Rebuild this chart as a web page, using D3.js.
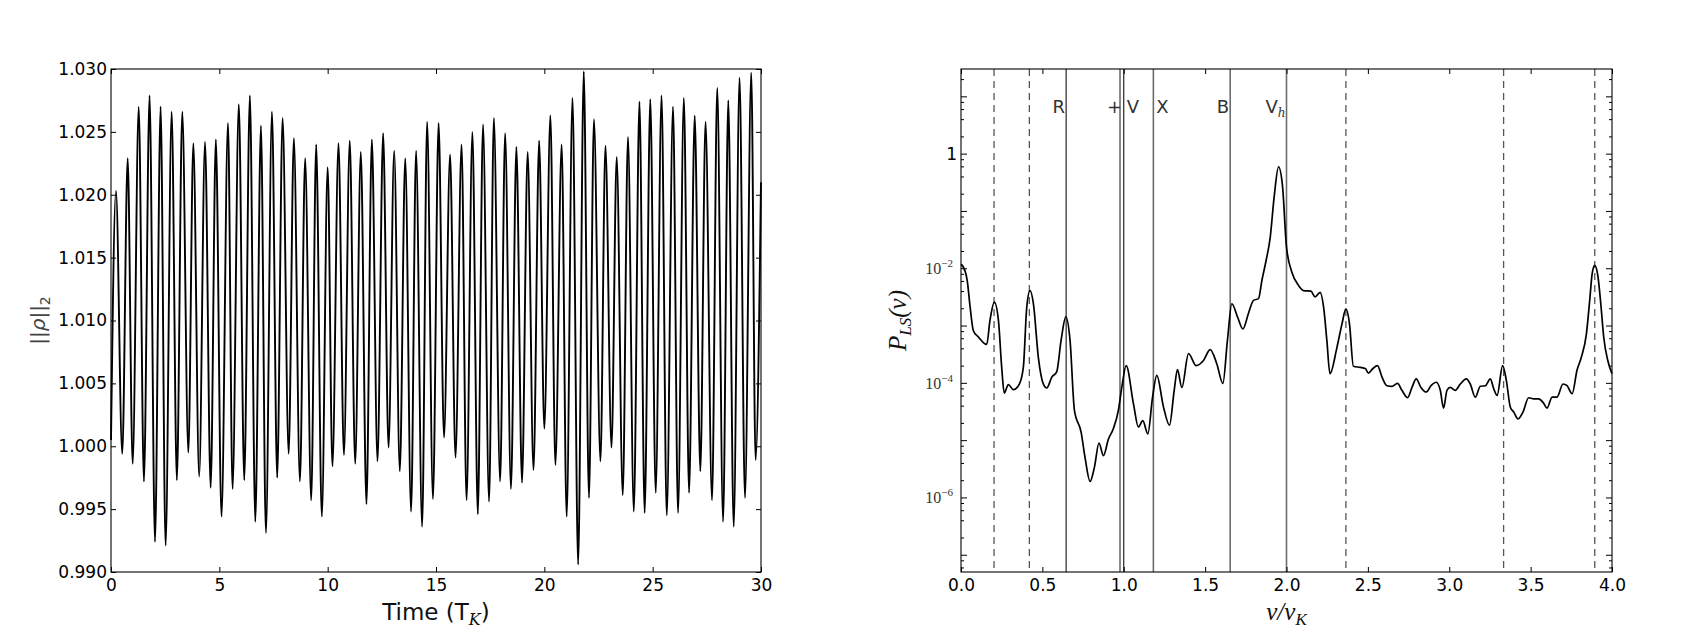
<!DOCTYPE html>
<html><head><meta charset="utf-8">
<script src="https://cdn.jsdelivr.net/npm/d3@7"></script>
<style>body{margin:0;background:#fff;} svg{display:block;}</style>
</head><body>
<svg id="c" width="1702" height="641"></svg>
<script>
// ---------- Left panel data: ||rho||_2 vs time (extrema of the oscillation) ----------
const peakTime = [0.23,0.77,1.28,1.78,2.29,2.80,3.29,3.80,4.34,4.84,5.40,5.90,6.41,6.92,7.43,7.92,8.44,8.96,9.47,10.0,10.5,11.02,11.53,12.04,12.56,13.07,13.58,14.08,14.59,15.12,15.65,16.18,16.68,17.17,17.67,18.19,18.71,19.23,19.76,20.28,20.8,21.3,21.82,22.29,22.82,23.34,23.86,24.39,24.89,25.41,25.94,26.44,26.94,27.44,27.98,28.49,29.01,29.55];
const peakNorm = [1.0203,1.0229,1.0270,1.0279,1.0270,1.0266,1.0266,1.0241,1.0242,1.0244,1.0257,1.0272,1.0279,1.0255,1.0266,1.0261,1.0245,1.0229,1.0240,1.0222,1.0241,1.0243,1.0234,1.0244,1.0249,1.0235,1.0229,1.0235,1.0258,1.0257,1.0232,1.0240,1.0250,1.0256,1.0261,1.0249,1.0238,1.0234,1.0243,1.0263,1.0240,1.0277,1.0298,1.0260,1.0239,1.0230,1.0246,1.0274,1.0276,1.0279,1.0270,1.0277,1.0263,1.0258,1.0285,1.0275,1.0293,1.0297];
const troughTime = [0.52,1.0,1.52,2.03,2.52,3.04,3.57,4.07,4.6,5.1,5.61,6.15,6.66,7.15,7.67,8.2,8.72,9.24,9.73,10.22,10.75,11.27,11.79,12.3,12.81,13.33,13.85,14.36,14.86,15.37,15.9,16.41,16.93,17.45,17.96,18.46,18.97,19.5,20.0,20.51,21.03,21.56,22.06,22.59,23.1,23.62,24.13,24.63,25.14,25.65,26.17,26.68,27.2,27.74,28.25,28.74,29.26,29.75];
const troughNorm = [0.9994,0.9986,0.9972,0.9924,0.9921,0.9973,0.9995,0.9976,0.9967,0.9944,0.9966,0.9973,0.9940,0.9931,0.9975,0.9994,0.9972,0.9957,0.9944,0.9984,0.9993,0.9986,0.9954,0.9988,0.9999,0.9980,0.9948,0.9936,0.9958,1.0007,0.9991,0.9957,0.9946,0.9956,0.9972,0.9966,0.9971,0.9981,1.0014,0.9985,0.9944,0.9906,0.9959,0.9988,0.9999,0.9961,0.9948,0.9947,0.9963,0.9945,0.9947,0.9963,0.9980,0.9957,0.9940,0.9936,0.9959,0.9989];
const edgeTime = [0, 30];
const edgeNorm = [1.0005, 1.021];
const timeTicks = [0,5,10,15,20,25,30];
const normTicks = [0.990,0.995,1.000,1.005,1.010,1.015,1.020,1.025,1.030];

// ---------- Right panel data: Lomb-Scargle periodogram ----------
const freq = [0.000,0.008,0.038,0.055,0.076,0.107,0.158,0.178,0.205,0.230,0.250,0.266,0.291,0.322,0.357,0.383,0.404,0.424,0.445,0.475,0.506,0.527,0.558,0.588,0.615,0.644,0.670,0.697,0.738,0.762,0.793,0.820,0.848,0.875,0.906,0.936,0.967,0.988,1.015,1.060,1.090,1.117,1.148,1.177,1.203,1.244,1.281,1.310,1.330,1.357,1.398,1.445,1.490,1.531,1.572,1.609,1.637,1.664,1.699,1.732,1.766,1.797,1.828,1.849,1.875,1.900,1.924,1.951,1.975,2.000,2.033,2.074,2.105,2.150,2.176,2.207,2.228,2.248,2.267,2.310,2.341,2.365,2.387,2.411,2.453,2.484,2.504,2.531,2.559,2.587,2.617,2.648,2.682,2.709,2.744,2.771,2.797,2.826,2.859,2.888,2.920,2.945,2.965,2.986,3.006,3.037,3.068,3.105,3.129,3.160,3.191,3.222,3.252,3.273,3.294,3.328,3.351,3.375,3.396,3.423,3.453,3.488,3.519,3.549,3.576,3.601,3.632,3.662,3.699,3.724,3.755,3.785,3.812,3.843,3.863,3.878,3.894,3.914,3.933,3.949,3.974,4.000];
const logPower = [-1.93,-1.95,-2.21,-2.65,-3.09,-3.20,-3.33,-2.91,-2.59,-2.91,-3.73,-4.18,-4.03,-4.12,-4.03,-3.73,-2.68,-2.39,-2.62,-3.55,-4.02,-4.09,-3.90,-3.81,-3.26,-2.85,-3.26,-4.48,-4.86,-5.30,-5.72,-5.47,-5.05,-5.27,-4.98,-4.80,-4.48,-4.08,-3.70,-4.37,-4.77,-4.66,-4.89,-4.25,-3.87,-4.42,-4.74,-4.13,-3.77,-4.08,-3.49,-3.70,-3.61,-3.42,-3.67,-4.01,-3.26,-2.62,-2.85,-3.06,-2.79,-2.56,-2.53,-2.21,-1.86,-1.46,-0.76,-0.23,-0.55,-1.63,-2.07,-2.30,-2.39,-2.40,-2.50,-2.42,-2.68,-3.26,-3.84,-3.38,-2.97,-2.71,-2.97,-3.71,-3.73,-3.75,-3.83,-3.75,-3.70,-3.90,-4.05,-4.06,-4.01,-4.13,-4.26,-4.08,-3.93,-4.08,-4.16,-4.05,-3.99,-4.13,-4.44,-4.13,-4.08,-4.13,-4.02,-3.93,-4.02,-4.25,-4.06,-4.05,-3.93,-4.10,-4.22,-3.70,-3.96,-4.42,-4.51,-4.63,-4.51,-4.26,-4.28,-4.28,-4.34,-4.44,-4.25,-4.25,-4.02,-4.05,-4.19,-3.78,-3.55,-3.14,-2.56,-2.10,-1.95,-2.15,-2.68,-3.20,-3.61,-3.84];
const freqTicks = [0,0.5,1.0,1.5,2.0,2.5,3.0,3.5,4.0];
const powerDecades = [-7,-6,-5,-4,-3,-2,-1,0,1];
const powerLabelled = [0,-2,-4,-6];
const minorSubs = [2,4,6,8];
const markerFreq  = [0.203,0.420,0.646,0.977,1.000,1.182,1.654,2.000,2.365,3.334,3.894];
const markerKind  = ["dash","dash","black","gray","black","gray","gray","gray","dash","dash","dash"];
const markerLabel = ["","","R","+","V","X","B","Vh","","",""];
const markerSide  = ["","","end","end","start","start","end","end","","",""];

// ---------- Drawing ----------
const svg = d3.select("#c");
const FONT = "DejaVu Sans";
const L = {x0:111, x1:761, y0:69, y1:572};
const R = {x0:961, x1:1612, y0:69, y1:572};

function styleAxis(g, fs){
  g.attr("font-family", null).attr("font-size", null);
  g.select(".domain").remove();
  g.selectAll(".tick line").attr("stroke", "#000").attr("stroke-width", 1);
  g.selectAll(".tick text").attr("font-family", FONT).attr("font-size", fs).attr("fill", "#000");
}
function frame(p){
  svg.append("rect").attr("x", p.x0).attr("y", p.y0).attr("width", p.x1 - p.x0).attr("height", p.y1 - p.y0)
    .attr("fill", "none").attr("stroke", "#000").attr("stroke-width", 1.1);
}

// ----- Left panel -----
const xL = d3.scaleLinear().domain([0, 30]).range([L.x0, L.x1]);
const yL = d3.scaleLinear().domain([0.990, 1.030]).range([L.y1, L.y0]);

const pts = [];
peakTime.forEach((t, i) => pts.push([t, peakNorm[i]]));
troughTime.forEach((t, i) => pts.push([t, troughNorm[i]]));
edgeTime.forEach((t, i) => pts.push([t, edgeNorm[i]]));
pts.sort((a, b) => a[0] - b[0]);

svg.append("path").datum(pts)
  .attr("d", d3.line().x(d => xL(d[0])).y(d => yL(d[1])).curve(d3.curveMonotoneX))
  .attr("fill", "none").attr("stroke", "#000").attr("stroke-width", 1.9).attr("stroke-linejoin", "round");

styleAxis(svg.append("g").attr("transform", `translate(0,${L.y1})`)
  .call(d3.axisBottom(xL).tickValues(timeTicks).tickFormat(d3.format("d")).tickSizeInner(-5).tickSizeOuter(0).tickPadding(7)), 17);
styleAxis(svg.append("g").attr("transform", `translate(0,${L.y0})`)
  .call(d3.axisTop(xL).tickValues(timeTicks).tickFormat("").tickSizeInner(-5).tickSizeOuter(0)), 17);
styleAxis(svg.append("g").attr("transform", `translate(${L.x0},0)`)
  .call(d3.axisLeft(yL).tickValues(normTicks).tickFormat(d3.format(".3f")).tickSizeInner(-5).tickSizeOuter(0).tickPadding(4)), 17);
styleAxis(svg.append("g").attr("transform", `translate(${L.x1},0)`)
  .call(d3.axisRight(yL).tickValues(normTicks).tickFormat("").tickSizeInner(-5).tickSizeOuter(0)), 17);
frame(L);

// left labels
const xlab = svg.append("text").attr("x", (L.x0 + L.x1) / 2).attr("y", 620).attr("text-anchor", "middle")
  .attr("font-family", FONT).attr("font-size", 23).attr("fill", "#111");
xlab.append("tspan").text("Time (T");
xlab.append("tspan").attr("font-family", "DejaVu Serif").attr("font-style", "italic").attr("font-size", 16).attr("dy", 5).text("K");
xlab.append("tspan").attr("dy", -5).text(")");

const ylab = svg.append("text").attr("transform", `translate(45,${(L.y0 + L.y1) / 2}) rotate(-90)`).attr("text-anchor", "middle")
  .attr("font-family", FONT).attr("font-size", 20).attr("fill", "#444");
ylab.append("tspan").text("||");
ylab.append("tspan").attr("font-style", "italic").text("ρ");
ylab.append("tspan").text("||");
ylab.append("tspan").attr("font-size", 14).attr("dy", 5).text("2");

// ----- Right panel -----
const xR = d3.scaleLinear().domain([0, 4]).range([R.x0, R.x1]);
const yR = d3.scaleLog().domain([5e-8, 30]).range([R.y1, R.y0]);

// marker lines
markerFreq.forEach((f, i) => {
  const k = markerKind[i];
  svg.append("line").attr("x1", xR(f)).attr("x2", xR(f)).attr("y1", R.y0).attr("y2", R.y1)
    .attr("stroke", k === "dash" ? "#555" : (k === "gray" ? "#6e6e6e" : "#111"))
    .attr("stroke-width", k === "dash" ? 1.3 : (k === "gray" ? 1.6 : 1.1))
    .attr("stroke-dasharray", k === "dash" ? "7,5" : null);
  if (markerLabel[i]) {
    const side = markerSide[i];
    const off = side === "end" ? (markerLabel[i] === "+" ? 2 : -1) : 3;
    const t = svg.append("text").attr("x", xR(f) + off).attr("y", 113)
      .attr("text-anchor", side).attr("font-family", FONT).attr("font-size", 18).attr("fill", "#333");
    if (markerLabel[i] === "Vh") {
      t.append("tspan").text("V");
      t.append("tspan").attr("font-family", "DejaVu Serif").attr("font-style", "italic").attr("font-size", 12).attr("dy", 4).text("h");
    } else t.text(markerLabel[i]);
  }
});

const spec = freq.map((f, i) => [f, Math.pow(10, logPower[i])]);
svg.append("path").datum(spec)
  .attr("d", d3.line().x(d => xR(d[0])).y(d => yR(d[1])).curve(d3.curveMonotoneX))
  .attr("fill", "none").attr("stroke", "#000").attr("stroke-width", 1.7).attr("stroke-linejoin", "round");

const majors = powerDecades.map(k => Math.pow(10, k));
const minors = [];
d3.range(-8, 2).forEach(k => minorSubs.forEach(m => { const v = m * Math.pow(10, k); if (v > 5e-8 && v < 30) minors.push(v); }));

styleAxis(svg.append("g").attr("transform", `translate(0,${R.y1})`)
  .call(d3.axisBottom(xR).tickValues(freqTicks).tickFormat(d3.format(".1f")).tickSizeInner(-5).tickSizeOuter(0).tickPadding(7)), 17);
styleAxis(svg.append("g").attr("transform", `translate(0,${R.y0})`)
  .call(d3.axisTop(xR).tickValues(freqTicks).tickFormat("").tickSizeInner(-5).tickSizeOuter(0)), 17);

const yAx = svg.append("g").attr("transform", `translate(${R.x0},0)`)
  .call(d3.axisLeft(yR).tickValues(majors).tickFormat("").tickSizeInner(-6).tickSizeOuter(0).tickPadding(6));
styleAxis(yAx, 17);
yAx.selectAll(".tick").each(function(d) {
  const k = Math.round(Math.log10(d));
  const txt = d3.select(this).select("text");
  if (!powerLabelled.includes(k)) return;
  if (k === 0) { txt.text("1").attr("font-size", 17).attr("x", -4); return; }
  txt.attr("x", -8).attr("font-family", "Liberation Serif").attr("fill", "#333");
  txt.append("tspan").attr("font-size", 16).text("10");
  txt.append("tspan").attr("font-size", 11).attr("dy", -7).text("−" + (-k));
});
styleAxis(svg.append("g").attr("transform", `translate(${R.x0},0)`)
  .call(d3.axisLeft(yR).tickValues(minors).tickFormat("").tickSizeInner(-3).tickSizeOuter(0)), 17);
styleAxis(svg.append("g").attr("transform", `translate(${R.x1},0)`)
  .call(d3.axisRight(yR).tickValues(majors).tickFormat("").tickSizeInner(-6).tickSizeOuter(0)), 17);
styleAxis(svg.append("g").attr("transform", `translate(${R.x1},0)`)
  .call(d3.axisRight(yR).tickValues(minors).tickFormat("").tickSizeInner(-3).tickSizeOuter(0)), 17);
frame(R);

// right labels
const xlab2 = svg.append("text").attr("x", (R.x0 + R.x1) / 2).attr("y", 620).attr("text-anchor", "middle")
  .attr("font-family", "Liberation Serif").attr("font-style", "italic").attr("font-size", 25).attr("fill", "#111");
xlab2.append("tspan").text("ν/ν");
xlab2.append("tspan").attr("font-size", 17).attr("dy", 5).text("K");

const ylab2 = svg.append("text").attr("transform", `translate(906,${(R.y0 + R.y1) / 2}) rotate(-90)`).attr("text-anchor", "middle")
  .attr("font-family", "Liberation Serif").attr("font-style", "italic").attr("font-size", 25).attr("fill", "#111");
ylab2.append("tspan").text("P");
ylab2.append("tspan").attr("font-size", 17).attr("dy", 5).text("LS");
ylab2.append("tspan").attr("dy", -5).text("(ν)");
</script>
</body></html>
